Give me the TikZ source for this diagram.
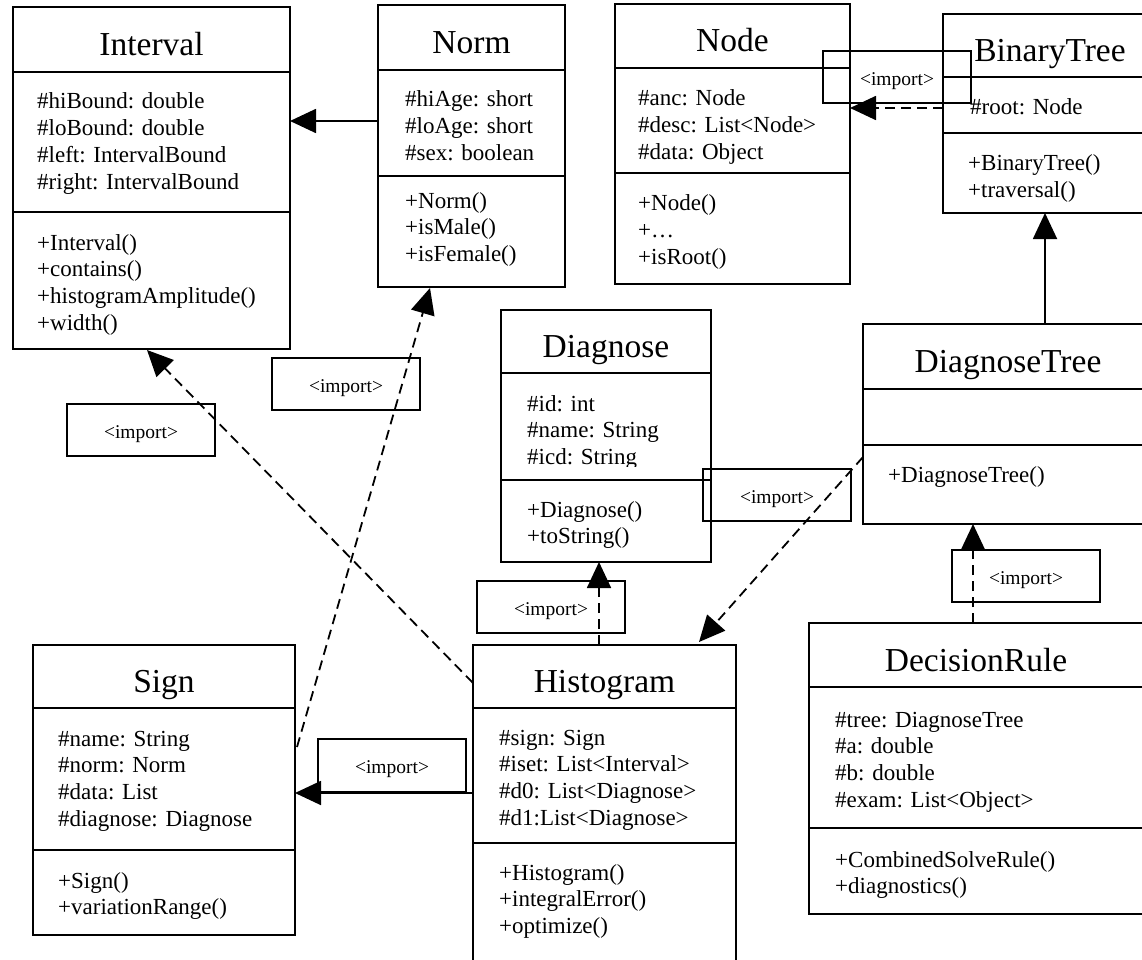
\documentclass[tikz,border=0pt]{standalone}
\usepackage{fontspec}
\setmainfont{Liberation Serif}
\usetikzlibrary{arrows.meta,calc}

\tikzset{
  comp/.style={draw, line width=1.8pt, anchor=north west, inner sep=0pt, outer sep=0pt},
  cname/.style={anchor=base, inner sep=0pt, font=\fontsize{33.5}{40}\selectfont},
  members/.style={anchor=base west, inner sep=0pt, align=left, text width=300pt,
                  font=\fontsize{23}{26.8}\selectfont\frenchspacing},
  impbox/.style={draw, line width=1.8pt, anchor=north west, inner sep=0pt, outer sep=0pt,
                 minimum width=148pt, minimum height=52pt, font=\fontsize{19.5}{22}\selectfont},
  gen/.style={line width=1.8pt, -{Triangle[length=26pt,width=24pt]}},
  dep/.style={gen, dash pattern=on 10pt off 6pt}
}

% stereotype text, set a little below the middle of its box
\newcommand\imptext{\raisebox{-4pt}[\height][\depth]{<import>}}

% one class: name, left, top, width, three compartment heights
\newcommand\umlclass[7]{%
  \node[comp, minimum width=#4pt, minimum height=#5pt] (#1-h) at (#2,#3) {};
  \node[comp, minimum width=#4pt, minimum height=#6pt] (#1-a) at (#1-h.south west) {};
  \node[comp, minimum width=#4pt, minimum height=#7pt] (#1-m) at (#1-a.south west) {};
}

\begin{document}
\begin{tikzpicture}[x=1pt, y=-1pt]
\useasboundingbox (0,0) rectangle (1142,960);
\clip (0,0) rectangle (1142,960);

% ---------- classes ----------
\umlclass{int}{13}{7}{277}{65}{140}{137}
\node[cname] (int-t) at ($(int-h.center)+(0,16)$) {Interval};
\node[members] (int-at) at (37,109) {\#hiBound: double\\\#loBound: double\\\#left: IntervalBound\\\#right: IntervalBound};
\node[members] (int-mt) at (37,250) {+Interval()\\+contains()\\+histogramAmplitude()\\+width()};

\umlclass{norm}{378}{5}{187}{65}{106}{111}
\node[cname] (norm-t) at ($(norm-h.center)+(0,16)$) {Norm};
\node[members] (norm-at) at (405,107) {\#hiAge: short\\\#loAge: short\\\#sex: boolean};
\node[members] (norm-mt) at (405,208) {+Norm()\\+isMale()\\+isFemale()};

\umlclass{node}{615}{4}{235}{64}{105}{111}
\node[cname] (node-t) at ($(node-h.center)+(0,16)$) {Node};
\node[members] (node-at) at (638,106) {\#anc: Node\\\#desc: List<Node>\\\#data: Object};
\node[members] (node-mt) at (638,211) {+Node()\\+…\\+isRoot()};

\umlclass{bt}{943}{14}{214}{63}{56}{80}
\node[cname] (bt-t) at ($(bt-h.center)+(0,16)$) {BinaryTree};
\node[members] (bt-at) at (970,115) {\#root: Node};
\node[members] (bt-mt) at (968,171) {+BinaryTree()\\+traversal()};

\umlclass{diag}{501}{310}{210}{63}{107}{82}
\node[cname] (diag-t) at ($(diag-h.center)+(0,16)$) {Diagnose};
\begin{scope}
  \clip (501,373) rectangle (711,466);
  \node[members] (diag-at) at (527,411) {\#id: int\\\#name: String\\\#icd: String};
\end{scope}
\node[members] (diag-mt) at (527,517) {+Diagnose()\\+toString()};

\umlclass{dt}{863}{324}{290}{65}{56}{79}
\node[cname] (dt-t) at ($(dt-h.center)+(0,16)$) {DiagnoseTree};
\node[members] (dt-mt) at (888,482) {+DiagnoseTree()};

\umlclass{sign}{33}{645}{262}{63}{142}{85}
\node[cname] (sign-t) at ($(sign-h.center)+(0,16)$) {Sign};
\node[members] (sign-at) at (58,746) {\#name: String\\\#norm: Norm\\\#data: List\\\#diagnose: Diagnose};
\node[members] (sign-mt) at (58,888) {+Sign()\\+variationRange()};

\umlclass{hist}{473}{645}{263}{63}{135}{140}
\node[cname] (hist-t) at ($(hist-h.center)+(0,16)$) {Histogram};
\node[members] (hist-at) at (499,745) {\#sign: Sign\\\#iset: List<Interval>\\\#d0: List<Diagnose>\\\#d1:List<Diagnose>};
\node[members] (hist-mt) at (499,880) {+Histogram()\\+integralError()\\+optimize()};

\umlclass{dr}{809}{623}{334}{64}{141}{86}
\node[cname] (dr-t) at ($(dr-h.center)+(0,16)$) {DecisionRule};
\node[members] (dr-at) at (835,727) {\#tree: DiagnoseTree\\\#a: double\\\#b: double\\\#exam: List<Object>};
\node[members] (dr-mt) at (835,867) {+CombinedSolveRule()\\+diagnostics()};

% ---------- import labels ----------
\node[impbox] (ib1) at (823,51) {\imptext};
\node[impbox] (ib2) at (272,358) {\imptext};
\node[impbox] (ib3) at (67,404) {\imptext};
\node[impbox] (ib4) at (703,469) {\imptext};
\node[impbox] (ib5) at (477,581) {\imptext};
\node[impbox] (ib6) at (952,550) {\imptext};
\node[impbox, minimum height=53pt] (ib7) at (318,739) {\imptext};

% ---------- connectors ----------
\draw[gen] ($(norm-a.west)+(0,-2)$) coordinate (c1) -- (c1 -| int-a.east);
\draw[dep] ($(bt-a.west)+(0,3)$) coordinate (c2) -- (c2 -| node-a.east);
\path ($(bt-m.south)+(-5,0)$) coordinate (c3);
\draw[gen] (c3 |- dt-h.north) -- (c3);
\draw[dep] ($(dr-h.north)+(-3,0)$) coordinate (c4) -- (c4 |- dt-m.south);
\draw[dep] ($(dt-m.north west)+(0,12)$) -- ($(hist-h.north east)+(-37,-3)$);
\draw[dep] ($(hist-h.north)+(-5.5,0)$) coordinate (c6) -- (c6 |- diag-m.south);
\draw[dep] ($(hist-h.west)+(0,6.5)$) -- ($(int-m.south)+(-4.5,1)$);
\draw[dep] ($(sign-a.north east)+(2,39)$) -- ($(norm-m.south)+(-41.5,1)$);
\draw[gen] ($(hist-a.west)+(0,17.5)$) coordinate (c9) -- (c9 -| sign-a.east);
\end{tikzpicture}
\end{document}
